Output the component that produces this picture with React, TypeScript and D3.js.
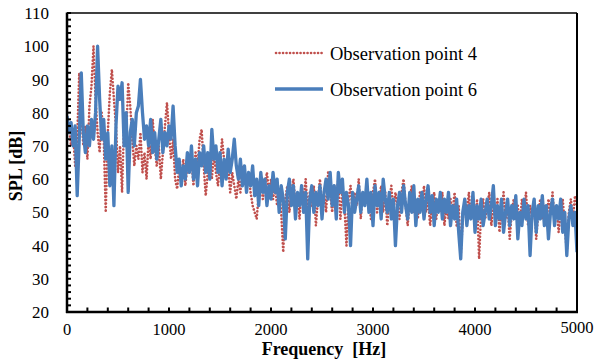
import React from "react";
import * as d3 from "d3";

const FREQ_STEP = 20;
const xTicks = [0, 1000, 2000, 3000, 4000, 5000];
const yTicks = [20, 30, 40, 50, 60, 70, 80, 90, 100, 110];
const seriesNames = ["Observation point 4", "Observation point 6"];

const obs4 = [
  74, 76, 70, 74, 64, 72, 92, 80, 70, 76, 66, 82, 88, 100, 84, 74, 68, 80, 72, 50,
  74, 86, 93, 84, 76, 62, 70, 56, 78, 72, 89, 82, 72, 64, 70, 66, 74, 62, 68, 60,
  72, 66, 78, 70, 64, 70, 60, 68, 76, 83, 74, 66, 72, 60, 57, 64, 60, 66, 58, 64,
  62, 66, 58, 68, 64, 72, 75, 64, 55, 62, 66, 60, 68, 62, 58, 64, 72, 66, 60, 64,
  56, 62, 58, 54, 60, 56, 64, 60, 58, 62, 56, 52, 50, 48, 56, 60, 54, 58, 62, 56,
  60, 54, 58, 52, 56, 50, 38, 54, 58, 50, 56, 60, 52, 56, 48, 58, 54, 60, 50, 56,
  52, 58, 46, 54, 60, 52, 56, 50, 62, 56, 50, 58, 54, 60, 48, 56, 52, 40, 54, 58,
  50, 56, 52, 60, 48, 56, 52, 58, 54, 48, 56, 60, 50, 54, 58, 50, 56, 46, 54, 58,
  50, 56, 52, 48, 56, 60, 52, 46, 54, 58, 50, 54, 48, 56, 52, 58, 50, 54, 46, 52,
  56, 48, 54, 50, 56, 46, 52, 48, 54, 50, 56, 46, 52, 37, 48, 54, 50, 56, 48, 52,
  46, 54, 36, 50, 54, 48, 52, 56, 46, 52, 48, 54, 44, 50, 56, 48, 52, 42, 50, 54,
  48, 52, 46, 54, 50, 56, 46, 52, 48, 54, 42, 50, 54, 48, 52, 46, 54, 50, 56, 48,
  52, 44, 50, 54, 46, 38, 50, 54, 48, 55, 52,
];

const obs6 = [
  79, 74, 77, 70, 76, 55, 72, 92, 74, 68, 76, 70, 78, 72, 80, 100, 84, 72, 78, 66,
  74, 58, 70, 52, 76, 88, 84, 89, 70, 80, 56, 74, 78, 70, 80, 82, 90, 80, 72, 76,
  70, 78, 68, 74, 66, 72, 78, 68, 74, 70, 76, 72, 82, 70, 62, 66, 58, 64, 60, 68,
  62, 70, 60, 66, 58, 68, 64, 70, 62, 68, 60, 75, 66, 70, 62, 68, 58, 66, 60, 69,
  62, 66, 72, 64, 60, 66, 58, 64, 56, 62, 58, 64, 55, 60, 52, 62, 56, 60, 52, 58,
  54, 62, 56, 60, 50, 58, 54, 42, 56, 60, 52, 58, 48, 56, 52, 58, 50, 56, 36, 54,
  58, 50, 56, 52, 58, 48, 56, 60, 54, 62, 52, 58, 48, 62, 56, 60, 50, 56, 52, 40,
  56, 50, 54, 58, 50, 56, 52, 60, 50, 56, 46, 58, 52, 56, 48, 60, 54, 50, 56, 48,
  54, 40, 52, 56, 50, 58, 52, 48, 56, 50, 58, 46, 54, 50, 56, 48, 54, 58, 50, 55,
  46, 54, 50, 56, 48, 54, 50, 56, 46, 52, 48, 54, 44, 36, 50, 54, 46, 52, 48, 56,
  44, 52, 48, 54, 46, 50, 54, 48, 52, 58, 46, 52, 48, 54, 44, 50, 54, 46, 52, 48,
  55, 42, 50, 46, 54, 48, 52, 37, 50, 54, 44, 52, 48, 55, 46, 52, 42, 50, 54, 46,
  52, 48, 54, 44, 50, 37, 48, 52, 46, 50, 38,
];

const W = 598;
const H = 363;
const left = 67;
const right = 577;
const top = 13;
const bottom = 312;

export default function App() {
  const x = d3.scaleLinear().domain([0, 5000]).range([left, right]);
  const y = d3.scaleLinear().domain([20, 110]).range([bottom, top]);
  const line = d3
    .line<number>()
    .x((_, i) => x(i * FREQ_STEP))
    .y((d) => y(d));

  const xMinor = d3.range(0, 5001, 200);
  const yMinor = d3.range(20, 111, 2);
  const font = "'Liberation Serif', 'Times New Roman', serif";
  const red = "#c0504d";
  const blue = "#4a7ebb";

  return (
    <svg width={W} height={H} style={{ position: "absolute", left: 0, top: 0, background: "#fff" }}>
      <rect x={0} y={0} width={W} height={H} fill="#fff" />
      <defs>
        <clipPath id="plotclip">
          <rect x={left} y={top} width={right - left} height={bottom - top} />
        </clipPath>
      </defs>
      <g clipPath="url(#plotclip)">
        <path d={line(obs4) || ""} fill="none" stroke={red} strokeWidth={2.6} strokeDasharray="0.1 3.4" strokeLinecap="round" strokeLinejoin="round" />
        <path d={line(obs6) || ""} fill="none" stroke={blue} strokeWidth={3.3} strokeLinejoin="round" />
      </g>
      {/* frame */}
      <line x1={left} x2={right} y1={top} y2={top} stroke="#000" strokeWidth={1.5} />
      <line x1={right} x2={right} y1={top} y2={bottom} stroke="#000" strokeWidth={2} />
      <line x1={left} x2={left} y1={top - 0.5} y2={bottom + 1} stroke="#000" strokeWidth={2.5} />
      <line x1={left - 1} x2={right + 1} y1={bottom} y2={bottom} stroke="#000" strokeWidth={2.5} />
      {yMinor.map((v) => (
        <line key={"ym" + v} x1={left} x2={left + 4} y1={y(v)} y2={y(v)} stroke="#000" strokeWidth={2} />
      ))}
      {xMinor.map((v) => (
        <line key={"xm" + v} x1={x(v)} x2={x(v)} y1={bottom} y2={bottom - 4.5} stroke="#000" strokeWidth={2} />
      ))}
      {yTicks.map((v) => (
        <text key={"yt" + v} x={49} y={y(v)} dy="0.36em" textAnchor="end" fontFamily={font} fontSize={17} fill="#000">
          {v}
        </text>
      ))}
      {xTicks.map((v) => (
        <text key={"xt" + v} x={x(v)} y={v === 5000 ? 333 : 335} textAnchor="middle" fontFamily={font} fontSize={16.5} fill="#000">
          {v}
        </text>
      ))}
      <text x={324} y={355} textAnchor="middle" fontFamily={font} fontSize={18} fontWeight="bold" fill="#000" style={{ whiteSpace: "pre" }}>
        {"Frequency  [Hz]"}
      </text>
      <text transform="translate(22,166) rotate(-90)" textAnchor="middle" fontFamily={font} fontSize={18} fontWeight="bold" fill="#000">
        SPL [dB]
      </text>
      {/* legend */}
      <line x1={276} x2={322} y1={53} y2={53} stroke={red} strokeWidth={2.6} strokeDasharray="0.1 3.4" strokeLinecap="round" />
      <text x={330} y={59.5} fontFamily={font} fontSize={18.5} fill="#000">
        {seriesNames[0]}
      </text>
      <line x1={275} x2={323} y1={89} y2={89} stroke={blue} strokeWidth={3.3} />
      <text x={330} y={95.5} fontFamily={font} fontSize={18.5} fill="#000">
        {seriesNames[1]}
      </text>
    </svg>
  );
}
